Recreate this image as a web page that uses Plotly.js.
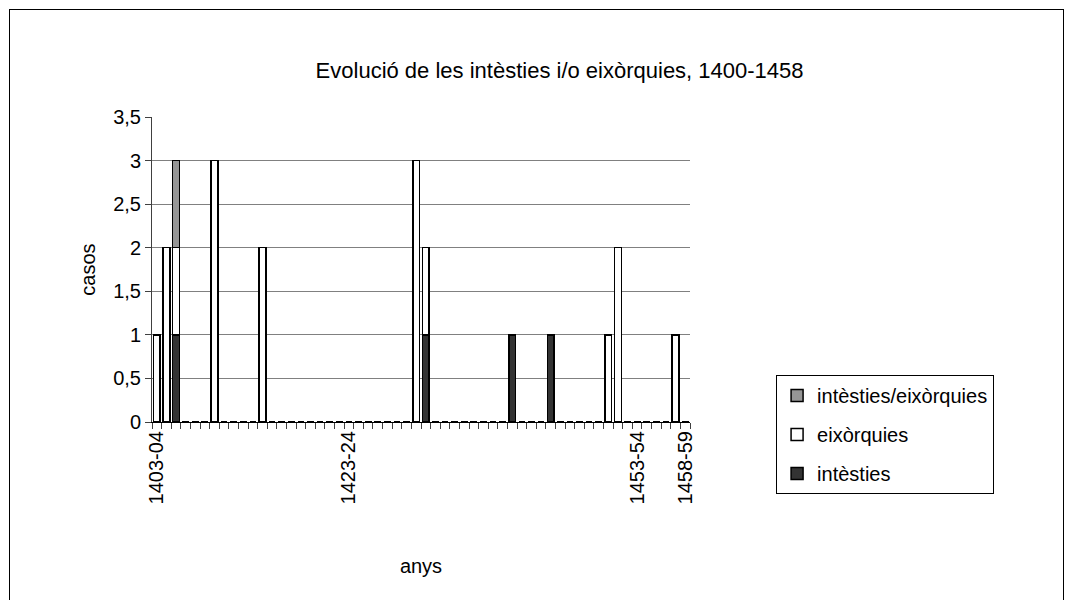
<!DOCTYPE html>
<html>
<head>
<meta charset="utf-8">
<script src="https://cdn.plot.ly/plotly-3.0.1.min.js"></script>
<style>
  html, body { margin: 0; padding: 0; background: #ffffff; }
  #chart { width: 1072px; height: 600px; }
  #frame { position: absolute; left: 9px; top: 9px; width: 1053px; height: 600px;
           border: 1px solid #000; border-bottom: none; pointer-events: none; }
</style>
</head>
<body>
<div id="chart"></div>
<div id="frame"></div>
<script>
// Categories (years)
const categories = [
  "1403-04","1404-05","1405-06","1406-07","1407-08","1408-09","1409-10","1410-11",
  "1411-12","1412-13","1413-14","1414-15","1415-16","1416-17","1417-18","1418-19",
  "1419-20","1420-21","1421-22","1422-23","1423-24","1424-25","1425-26","1426-27",
  "1427-28","1428-29","1429-30","1430-31","1431-32","1432-33","1433-34","1434-35",
  "1435-36","1436-37","1437-38","1438-39","1439-40","1440-41","1441-42","1442-43",
  "1443-44","1444-45","1445-46","1446-47","1447-48","1448-49","1449-50","1450-51",
  "1451-52","1452-53","1453-54","1454-55","1455-56","1456-57","1457-58","1458-59"
];
// Tick labels actually shown on the category axis
const shownLabels = ["1403-04","1423-24","1453-54","1458-59"];

// Series values (one per category)
const intesties = [
  0,0,1,0,0,0,0,0, 0,0,0,0,0,0,0,0, 0,0,0,0,0,0,0,0, 0,0,0,0,1,0,0,0,
  0,0,0,0,0,1,0,0, 0,1,0,0,0,0,0,0, 0,0,0,0,0,0,0,0
];
const eixorquies = [
  1,2,1,0,0,0,3,0, 0,0,0,2,0,0,0,0, 0,0,0,0,0,0,0,0, 0,0,0,3,1,0,0,0,
  0,0,0,0,0,0,0,0, 0,0,0,0,0,0,0,1, 2,0,0,0,0,0,1,0
];
const intestiesEixorquies = [
  0,0,1,0,0,0,0,0, 0,0,0,0,0,0,0,0, 0,0,0,0,0,0,0,0, 0,0,0,0,0,0,0,0,
  0,0,0,0,0,0,0,0, 0,0,0,0,0,0,0,0, 0,0,0,0,0,0,0,0
];
const yTickVals = [0, 0.5, 1, 1.5, 2, 2.5, 3, 3.5];

const FONT = '"Liberation Sans", Arial, sans-serif';
const line = { color: '#000000', width: 1.5 };

const traces = [
  { type: 'bar', name: 'intèsties', legendgroup: 'a', legendrank: 3,
    x: categories, y: intesties,
    marker: { color: '#333333', line: line } },
  { type: 'bar', name: 'eixòrquies', legendgroup: 'b', legendrank: 2,
    x: categories, y: eixorquies,
    marker: { color: '#ffffff', line: line } },
  { type: 'bar', name: 'intèsties/eixòrquies', legendgroup: 'c', legendrank: 1,
    x: categories, y: intestiesEixorquies,
    marker: { color: '#969696', line: line } }
];

const layout = {
  width: 1072, height: 600,
  margin: { l: 152, r: 382, t: 117, b: 178, pad: 0 },
  paper_bgcolor: '#ffffff', plot_bgcolor: '#ffffff',
  font: { family: FONT, size: 20, color: '#000000' },
  separators: ', ',
  barmode: 'stack', bargap: 0.3,
  showlegend: true,
  title: { text: 'Evolució de les intèsties i/o eixòrquies, 1400-1458',
           font: { family: FONT, size: 22, color: '#000' },
           x: 0.522, xref: 'container', xanchor: 'center',
           y: 0.883, yref: 'container', yanchor: 'middle' },
  xaxis: {
    type: 'category',
    tickmode: 'array', tickvals: categories,
    ticktext: categories.map(c => shownLabels.includes(c) ? c : ''),
    tickson: 'boundaries', ticks: 'outside', ticklen: 6, tickcolor: '#404040',
    tickangle: -90, showgrid: false, tickfont: { family: FONT, size: 20 },
    showline: true, linecolor: '#000000', linewidth: 1,
    title: { text: 'anys', standoff: 55, font: { family: FONT, size: 20 } },
    automargin: false, fixedrange: true
  },
  yaxis: {
    range: [0, 3.5], tickvals: yTickVals, tickfont: { family: FONT, size: 20 },
    ticks: 'outside', ticklen: 6, tickcolor: '#404040',
    showgrid: true, gridcolor: '#808080', gridwidth: 1,
    showline: true, linecolor: '#404040', linewidth: 1,
    zeroline: false,
    title: { text: 'casos', standoff: 12, font: { family: FONT, size: 20 } },
    automargin: false, fixedrange: true
  },
  legend: {
    x: 1.16, xanchor: 'left', y: 0.154, yanchor: 'top',
    traceorder: 'grouped', tracegroupgap: 10,
    bgcolor: '#ffffff', bordercolor: '#000000', borderwidth: 1,
    font: { family: FONT, size: 20 }
  }
};

Plotly.newPlot('chart', traces, layout, { staticPlot: true, displayModeBar: false });
</script>
</body>
</html>
